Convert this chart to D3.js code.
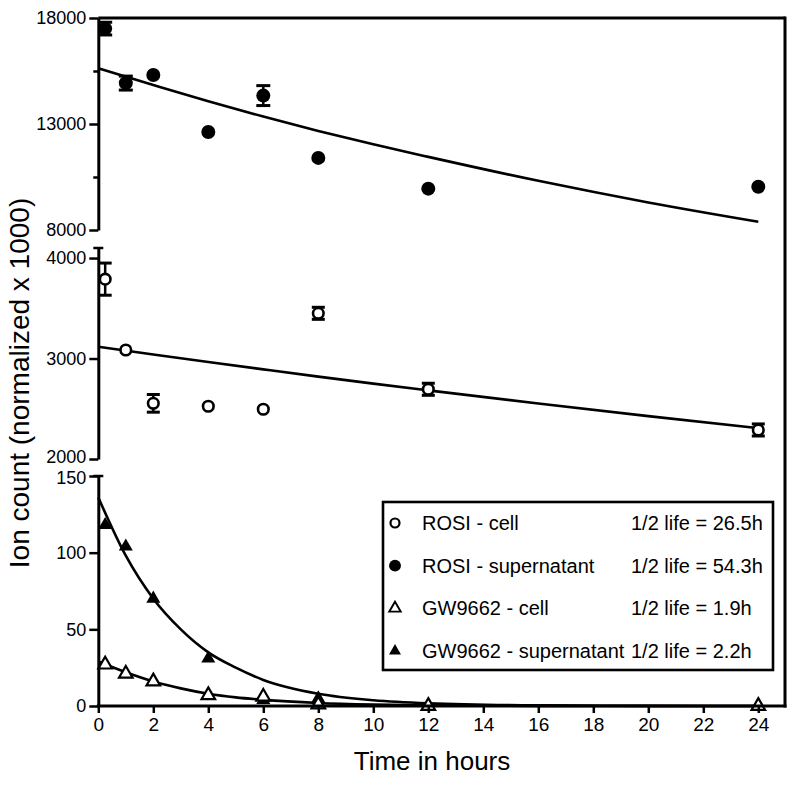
<!DOCTYPE html>
<html>
<head>
<meta charset="utf-8">
<script src="https://cdn.jsdelivr.net/npm/d3@7"></script>
<style>
  html, body { margin: 0; padding: 0; background: #fff; }
  svg { display: block; }
  text { font-family: "Liberation Sans", Arial, Helvetica, sans-serif; fill: #000; }
</style>
</head>
<body>
<svg id="chart" width="800" height="788"></svg>
<script>
// ---------------- data ----------------
const times = [0.25, 1, 2, 4, 6, 8, 12, 24];
const rosiSupernatant    = [17500, 14930, 15310, 12620, 14340, 11400, 9950, 10040];
const rosiSupernatantErr = [300, 330, 0, 0, 470, 0, 0, 0];
const rosiCell           = [3790, 3085, 2554, 2525, 2495, 3450, 2694, 2289];
const rosiCellErr        = [160, 0, 88, 0, 0, 60, 60, 60];
const gwSupernatant      = [118, 104, 70, 31, 4, 5, 0, 0];
const gwCell             = [27, 21, 16, 7, 6, 1, 0, 0];

// fitted curves
const rosiFitTimes   = [0, 2, 4, 6, 8, 10, 12, 16, 20, 24];
const rosiSupFit     = [15630, 14840, 14070, 13350, 12670, 12040, 11450, 10320, 9300, 8390];
const rosiCellFit    = [3117, 3040, 2965, 2892, 2820, 2750, 2683, 2552, 2427, 2308];
const gwFitTimes     = [0, 1, 2, 3, 4, 5, 6, 8, 10, 12, 16, 20, 24];
const gwSupFit       = [136, 98, 70, 50, 35, 25, 17, 8, 3.8, 1.8, 0.4, 0.1, 0];
const gwCellFit      = [29, 22, 16, 11.5, 8, 5.6, 4, 2, 1, 0.5, 0.1, 0, 0];

const xTicks       = d3.range(0, 25, 2);
const topTicks     = [8000, 13000, 18000];
const topMinor     = [10500, 15500];
const midTicks     = [2000, 3000, 4000];
const botTicks     = [0, 50, 100, 150];

const legendRows = [
  {label: "ROSI - cell",           life: "1/2 life = 26.5h", sym: "openCircle"},
  {label: "ROSI - supernatant",    life: "1/2 life = 54.3h", sym: "filledCircle"},
  {label: "GW9662 - cell",         life: "1/2 life = 1.9h",  sym: "openTri"},
  {label: "GW9662 - supernatant",  life: "1/2 life = 2.2h",  sym: "filledTri"}
];

// ---------------- layout ----------------
const svg = d3.select("#chart");
const frameRight = 785;
const x = d3.scaleLinear().domain([0, 24]).range([98.3, 758.3]);
const yTop = d3.scaleLinear().domain([8000, 18000]).range([230, 18]);
const yMid = d3.scaleLinear().domain([2000, 4100]).range([459, 248]);
const yBot = d3.scaleLinear().domain([0, 150]).range([706, 476]);
const axisX0 = x(0);

const g = svg.append("g");

// fit lines
function fitLine(ts, vs, y) {
  const line = d3.line().x(d => x(d[0])).y(d => y(d[1])).curve(d3.curveMonotoneX);
  g.append("path").attr("d", line(ts.map((t, i) => [t, vs[i]])))
    .attr("fill", "none").attr("stroke", "#000").attr("stroke-width", 2.6);
}
fitLine(rosiFitTimes, rosiSupFit, yTop);
fitLine(rosiFitTimes, rosiCellFit, yMid);
fitLine(gwFitTimes, gwSupFit, yBot);
fitLine(gwFitTimes, gwCellFit, yBot);

// error bars
function errBars(vals, errs, y, cap) {
  times.forEach((t, i) => {
    if (!errs[i]) return;
    const cx = x(t), y1 = y(vals[i] + errs[i]), y2 = y(vals[i] - errs[i]);
    g.append("line").attr("x1", cx).attr("x2", cx).attr("y1", y1).attr("y2", y2)
      .attr("stroke", "#000").attr("stroke-width", 2.5);
    [y1, y2].forEach(yy => g.append("line").attr("x1", cx - cap).attr("x2", cx + cap)
      .attr("y1", yy).attr("y2", yy).attr("stroke", "#000").attr("stroke-width", 3));
  });
}
errBars(rosiSupernatant, rosiSupernatantErr, yTop, 7);
errBars(rosiCell, rosiCellErr, yMid, 6.5);

// markers
const triFilled = d3.symbol(d3.symbolTriangle, 85)();
const triOpen = d3.symbol(d3.symbolTriangle, 80)();
function marker(sel, type) {
  if (type === "filledCircle") sel.append("circle").attr("r", 7).attr("fill", "#000");
  else if (type === "openCircle") sel.append("circle").attr("r", 5.3).attr("fill", "#fff")
      .attr("stroke", "#000").attr("stroke-width", 2.6);
  else if (type === "filledTri") sel.append("path").attr("d", triFilled).attr("fill", "#000");
  else if (type === "openTri") sel.append("path").attr("d", triOpen).attr("fill", "#fff")
      .attr("stroke", "#000").attr("stroke-width", 2.2);
}
function points(vals, y, type) {
  times.forEach((t, i) => {
    const s = g.append("g").attr("transform", `translate(${x(t)},${y(vals[i])})`);
    marker(s, type);
  });
}
points(rosiSupernatant, yTop, "filledCircle");
points(rosiCell, yMid, "openCircle");
points(gwSupernatant, yBot, "filledTri");
points(gwCell, yBot, "openTri");

// frame (top and right)
svg.append("line").attr("x1", axisX0).attr("x2", frameRight).attr("y1", yTop(18000)).attr("y2", yTop(18000))
  .attr("stroke", "#000").attr("stroke-width", 3);
svg.append("line").attr("x1", frameRight).attr("x2", frameRight).attr("y1", yTop(18000) - 1.5).attr("y2", yBot(0) + 1.5)
  .attr("stroke", "#000").attr("stroke-width", 3);

// y axes
function styleAxis(sel) {
  sel.selectAll(".domain").attr("stroke", "#000").attr("stroke-width", 3);
  sel.selectAll(".tick line").attr("stroke", "#000").attr("stroke-width", 2.5);
  sel.selectAll(".tick text").style("font-size", "18px").attr("fill", "#000");
}
function yAxis(scale, ticks) {
  const a = svg.append("g").attr("transform", `translate(${axisX0},0)`)
    .call(d3.axisLeft(scale).tickValues(ticks).tickSize(9).tickSizeOuter(0).tickPadding(3).tickFormat(d3.format("d")));
  styleAxis(a);
  return a;
}
yAxis(yTop, topTicks);
const minor = svg.append("g").attr("transform", `translate(${axisX0},0)`)
  .call(d3.axisLeft(yTop).tickValues(topMinor).tickSize(5).tickFormat(""));
minor.select(".domain").remove();
minor.selectAll(".tick line").attr("stroke", "#000").attr("stroke-width", 2.5);
const midAxis = yAxis(yMid, midTicks);
const botAxis = yAxis(yBot, botTicks);
// keep the adjacent break labels (2000 / 150) from touching
midAxis.selectAll(".tick text").filter(d => d === 2000).attr("dy", "0.2em");
botAxis.selectAll(".tick text").filter(d => d === 150).attr("dy", "0.42em");

// break caps at the top of the lower segments
[yMid.range()[1], yBot.range()[1]].forEach(yy => {
  svg.append("line").attr("x1", axisX0 - 5).attr("x2", axisX0 + 5).attr("y1", yy).attr("y2", yy)
    .attr("stroke", "#000").attr("stroke-width", 2.5);
});

// x axis
const xa = svg.append("g").attr("transform", `translate(0,${yBot(0)})`)
  .call(d3.axisBottom(x).tickValues(xTicks).tickSize(7).tickSizeOuter(0).tickPadding(5));
xa.select(".domain").remove();
xa.selectAll(".tick line").attr("stroke", "#000").attr("stroke-width", 2.5);
xa.selectAll(".tick text").style("font-size", "19px").attr("fill", "#000");
svg.append("line").attr("x1", axisX0 - 1.5).attr("x2", frameRight + 1.5).attr("y1", yBot(0)).attr("y2", yBot(0))
  .attr("stroke", "#000").attr("stroke-width", 3);

// axis titles
svg.append("text").attr("x", 432).attr("y", 770).attr("text-anchor", "middle")
  .style("font-size", "26px").text("Time in hours");
svg.append("text").attr("transform", "translate(29,383) rotate(-90)").attr("text-anchor", "middle")
  .style("font-size", "28px").text("Ion count (normalized x 1000)");

// legend
const lg = svg.append("g");
lg.append("rect").attr("x", 383).attr("y", 502).attr("width", 390).attr("height", 168)
  .attr("fill", "#fff").attr("stroke", "#000").attr("stroke-width", 2.6);
const rowY = d3.scalePoint().domain(legendRows.map(d => d.label)).range([523, 651]);
legendRows.forEach(r => {
  const yy = rowY(r.label);
  const s = lg.append("g").attr("transform", `translate(395,${yy}) scale(0.85)`);
  marker(s, r.sym);
  lg.append("text").attr("x", 422).attr("y", yy + 7).style("font-size", "20px").text(r.label);
  lg.append("text").attr("x", 631).attr("y", yy + 7).style("font-size", "20px").text(r.life);
});
</script>
</body>
</html>
